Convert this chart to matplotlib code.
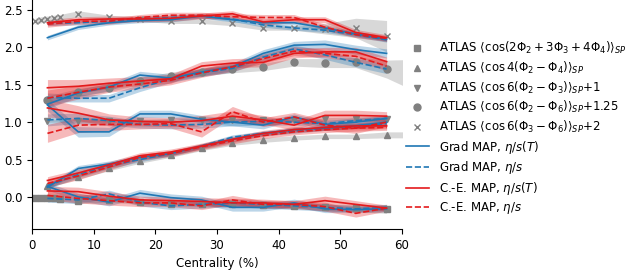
import numpy as np
import matplotlib
matplotlib.use("Agg")
import matplotlib.pyplot as plt

plt.rcParams['font.size'] = 8.5

# centrality bins of the model curves
cent = [2.5, 7.5, 12.5, 17.5, 22.5, 27.5, 32.5, 37.5, 42.5, 47.5, 52.5, 57.5]

# ATLAS data (raw values, offsets added when plotting)
atlas_fine_x = [0.5, 1.5, 2.5, 3.5, 4.5, 7.5, 12.5, 17.5, 22.5, 27.5, 32.5, 37.5, 42.5, 47.5, 52.5, 57.5]
atlas_x = [2.5, 7.5, 12.5, 17.5, 22.5, 27.5, 32.5, 37.5, 42.5, 47.5, 52.5, 57.5]
atlas_wide_x = [2.5, 7.5, 12.5, 17.5, 22.5, 27.5, 32.5, 37.5, 42.5, 47.5, 52.5, 57.5, 62.5]

atlas_sq = [-0.02, -0.01, -0.02, -0.02, -0.03, -0.06, -0.04, -0.07, -0.09, -0.10, -0.10, -0.11, -0.12, -0.14, -0.15, -0.16]
atlas_sq_err = [0.04, 0.03, 0.03, 0.03, 0.03, 0.03, 0.03, 0.03, 0.03, 0.03, 0.03, 0.04, 0.04, 0.04, 0.05, 0.06]
atlas_tu = [0.15, 0.27, 0.38, 0.48, 0.56, 0.65, 0.72, 0.76, 0.79, 0.81, 0.81, 0.83, 0.83]
atlas_tu_err = [0.03, 0.03, 0.03, 0.03, 0.03, 0.03, 0.03, 0.03, 0.03, 0.03, 0.03, 0.04, 0.04]
atlas_td = [0.02, 0.02, 0.02, 0.02, 0.03, 0.03, 0.03, 0.03, 0.03, 0.04, 0.04, 0.04]
atlas_td_err = [0.02, 0.02, 0.02, 0.02, 0.02, 0.02, 0.02, 0.02, 0.02, 0.02, 0.03, 0.03]
atlas_ci = [0.05, 0.15, 0.21, 0.30, 0.37, 0.42, 0.46, 0.49, 0.55, 0.54, 0.55, 0.46, 0.37]
atlas_ci_err = [0.05, 0.05, 0.05, 0.05, 0.05, 0.05, 0.05, 0.05, 0.05, 0.06, 0.07, 0.12, 0.22]
atlas_xx = [0.35, 0.37, 0.38, 0.39, 0.40, 0.45, 0.40, 0.38, 0.35, 0.35, 0.32, 0.26, 0.26, 0.25, 0.26, 0.15]
atlas_xx_err = [0.04, 0.04, 0.04, 0.04, 0.04, 0.04, 0.03, 0.03, 0.03, 0.03, 0.03, 0.03, 0.03, 0.07, 0.13, 0.21]

# model curves: Grad eta/s(T), Grad eta/s, C.-E. eta/s(T), C.-E. eta/s
grad_T_sq = [0.14, 0.00, -0.07, 0.05, -0.01, -0.04, -0.14, -0.14, -0.08, -0.16, -0.17, -0.16]
grad_sq = [-0.02, -0.04, 0.04, -0.07, -0.12, -0.10, -0.08, -0.10, -0.12, -0.14, -0.16, -0.14]
ce_T_sq = [0.08, 0.07, 0.01, -0.04, -0.05, -0.06, -0.08, -0.08, -0.10, -0.05, -0.10, -0.15]
ce_sq = [0.02, -0.02, -0.05, -0.08, -0.08, -0.12, -0.04, -0.10, -0.10, -0.13, -0.22, -0.15]

grad_T_tu = [0.13, 0.38, 0.44, 0.53, 0.58, 0.68, 0.77, 0.85, 0.90, 0.92, 0.95, 1.00]
grad_tu = [0.15, 0.30, 0.42, 0.50, 0.58, 0.68, 0.80, 0.85, 0.88, 0.92, 0.95, 0.98]
ce_T_tu = [0.22, 0.32, 0.43, 0.55, 0.60, 0.68, 0.77, 0.85, 0.90, 0.93, 0.95, 0.95]
ce_tu = [0.18, 0.28, 0.40, 0.53, 0.58, 0.67, 0.75, 0.82, 0.87, 0.90, 0.92, 0.93]

grad_T_td = [0.23, -0.13, -0.13, 0.11, 0.11, 0.04, 0.00, -0.04, 0.07, -0.03, 0.00, 0.05]
grad_td = [0.03, 0.05, 0.02, -0.03, -0.04, -0.03, 0.00, 0.01, 0.00, -0.02, 0.02, 0.05]
ce_T_td = [0.19, 0.12, 0.03, 0.01, 0.00, 0.02, 0.08, 0.03, -0.04, 0.09, 0.09, 0.08]
ce_td = [-0.15, -0.04, -0.03, -0.03, -0.02, -0.13, 0.14, 0.00, 0.07, -0.04, -0.08, 0.00]

grad_T_ci = [-0.01, 0.14, 0.22, 0.38, 0.34, 0.42, 0.49, 0.67, 0.78, 0.79, 0.72, 0.67]
grad_ci = [0.08, 0.07, 0.07, 0.21, 0.33, 0.41, 0.47, 0.62, 0.73, 0.65, 0.55, 0.46]
ce_T_ci = [0.21, 0.23, 0.27, 0.30, 0.33, 0.50, 0.54, 0.55, 0.67, 0.69, 0.69, 0.56]
ce_ci = [0.07, 0.15, 0.22, 0.26, 0.31, 0.41, 0.49, 0.60, 0.70, 0.67, 0.63, 0.50]

grad_T_xx = [0.13, 0.27, 0.33, 0.36, 0.37, 0.42, 0.37, 0.33, 0.33, 0.26, 0.18, 0.11]
grad_xx = [0.32, 0.33, 0.35, 0.38, 0.40, 0.42, 0.38, 0.30, 0.26, 0.23, 0.17, 0.10]
ce_T_xx = [0.33, 0.37, 0.38, 0.38, 0.39, 0.42, 0.45, 0.34, 0.37, 0.37, 0.20, 0.13]
ce_xx = [0.31, 0.35, 0.35, 0.40, 0.43, 0.43, 0.41, 0.40, 0.40, 0.27, 0.17, 0.12]

# model uncertainties
err_grad_sq = [0.05, 0.05, 0.05, 0.05, 0.05, 0.05, 0.05, 0.05, 0.05, 0.05, 0.04, 0.04]
err_ce_sq = [0.06, 0.06, 0.06, 0.05, 0.05, 0.05, 0.06, 0.05, 0.05, 0.06, 0.05, 0.04]
err_grad_tu = [0.04, 0.04, 0.04, 0.03, 0.03, 0.03, 0.03, 0.03, 0.03, 0.03, 0.03, 0.03]
err_ce_tu = [0.05, 0.05, 0.04, 0.04, 0.04, 0.04, 0.04, 0.04, 0.04, 0.04, 0.04, 0.04]
err_grad_td = [0.08, 0.07, 0.06, 0.05, 0.05, 0.05, 0.05, 0.05, 0.04, 0.04, 0.04, 0.04]
err_ce_td = [0.12, 0.10, 0.08, 0.06, 0.06, 0.07, 0.07, 0.06, 0.06, 0.07, 0.07, 0.06]
err_grad_ci = [0.06, 0.05, 0.05, 0.05, 0.05, 0.05, 0.05, 0.05, 0.05, 0.06, 0.06, 0.06]
err_ce_ci = [0.11, 0.09, 0.07, 0.06, 0.06, 0.06, 0.06, 0.06, 0.06, 0.06, 0.06, 0.06]
err_grad_xx = [0.03, 0.03, 0.03, 0.03, 0.03, 0.03, 0.03, 0.03, 0.03, 0.03, 0.03, 0.03]
err_ce_xx = [0.04, 0.04, 0.04, 0.04, 0.04, 0.04, 0.04, 0.04, 0.04, 0.04, 0.04, 0.04]

offsets = [0, 0, 1, 1.25, 2]
markers = ['s', '^', 'v', 'o', 'x']
atlas_labels = [
    r'ATLAS $\langle\cos(2\Phi_2+3\Phi_3+4\Phi_4)\rangle_{SP}$',
    r'ATLAS $\langle\cos4(\Phi_2-\Phi_4)\rangle_{SP}$',
    r'ATLAS $\langle\cos6(\Phi_2-\Phi_3)\rangle_{SP}$+1',
    r'ATLAS $\langle\cos6(\Phi_2-\Phi_6)\rangle_{SP}$+1.25',
    r'ATLAS $\langle\cos6(\Phi_3-\Phi_6)\rangle_{SP}$+2',
]
atlas_xs = [atlas_fine_x, atlas_wide_x, atlas_x, atlas_wide_x, atlas_fine_x]
atlas_ys = [atlas_sq, atlas_tu, atlas_td, atlas_ci, atlas_xx]
atlas_errs = [atlas_sq_err, atlas_tu_err, atlas_td_err, atlas_ci_err, atlas_xx_err]

models = [
    [grad_T_sq, grad_sq, ce_T_sq, ce_sq],
    [grad_T_tu, grad_tu, ce_T_tu, ce_tu],
    [grad_T_td, grad_td, ce_T_td, ce_td],
    [grad_T_ci, grad_ci, ce_T_ci, ce_ci],
    [grad_T_xx, grad_xx, ce_T_xx, ce_xx],
]
model_errs = [
    [err_grad_sq, err_ce_sq],
    [err_grad_tu, err_ce_tu],
    [err_grad_td, err_ce_td],
    [err_grad_ci, err_ce_ci],
    [err_grad_xx, err_ce_xx],
]
model_labels = [r'Grad MAP, $\eta/s(T)$', r'Grad MAP, $\eta/s$',
                r'C.-E. MAP, $\eta/s(T)$', r'C.-E. MAP, $\eta/s$']
blue = '#1f77b4'
red = '#e41a1c'
model_colors = [blue, blue, red, red]
model_styles = ['-', '--', '-', '--']

fig = plt.figure(figsize=(6.34, 2.73), dpi=100)
ax = fig.add_axes([0.0505, 0.161, 0.5836, 0.839])

# ATLAS data
for i in range(5):
    x = np.array(atlas_xs[i])
    y = np.array(atlas_ys[i]) + offsets[i]
    e = np.array(atlas_errs[i])
    ax.fill_between(x, y - e, y + e, color='gray', alpha=0.3, lw=0)
    ax.plot(x, y, ls='none', marker=markers[i], color='gray', ms=5,
            label=atlas_labels[i])

# model curves
for i in range(5):
    for j in range(4):
        y = np.array(models[i][j]) + offsets[i]
        e = np.array(model_errs[i][j // 2])
        ax.fill_between(cent, y - e, y + e, color=model_colors[j], alpha=0.3, lw=0)
        ax.plot(cent, y, color=model_colors[j], ls=model_styles[j], lw=1.2,
                label=model_labels[j] if i == 0 else None)

ax.set_xlim(0, 60)
ax.set_ylim(-0.43, 2.634)
ax.set_xticks([0, 10, 20, 30, 40, 50, 60])
ax.set_yticks([0.0, 0.5, 1.0, 1.5, 2.0, 2.5])
ax.set_xlabel('Centrality (%)')
ax.spines['top'].set_visible(False)
ax.spines['right'].set_visible(False)

ax.legend(loc='center left', bbox_to_anchor=(0.981, 0.44), frameon=False,
          labelspacing=0.3)

fig.savefig('out.png', dpi=100)
